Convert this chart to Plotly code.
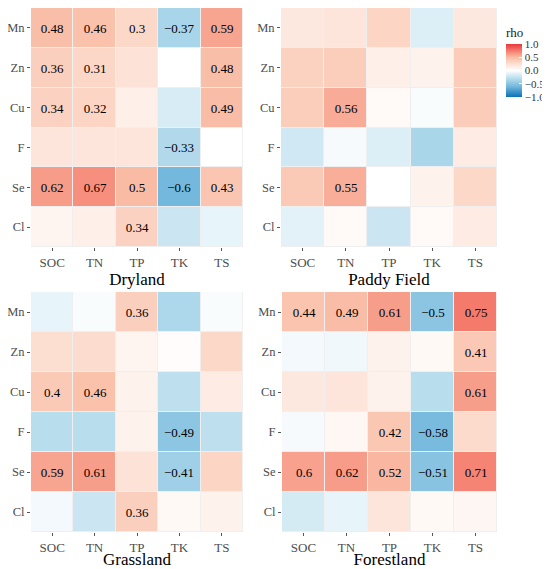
import plotly.graph_objects as go

# Spearman rho between soil properties and trace elements, per land use
props = ["SOC", "TN", "TP", "TK", "TS"]
elements = ["Mn", "Zn", "Cu", "F", "Se", "Cl"]

dryland = [
    [0.48, 0.46, 0.30, -0.37, 0.59],
    [0.36, 0.31, 0.22, 0.00, 0.48],
    [0.34, 0.32, 0.12, -0.17, 0.49],
    [0.20, 0.20, 0.20, -0.33, 0.00],
    [0.62, 0.67, 0.50, -0.60, 0.43],
    [0.08, 0.12, 0.34, -0.22, -0.10],
]
dryland_sig = [
    [1, 1, 1, 1, 1],
    [1, 1, 0, 0, 1],
    [1, 1, 0, 0, 1],
    [0, 0, 0, 1, 0],
    [1, 1, 1, 1, 1],
    [0, 0, 1, 0, 0],
]

paddy = [
    [0.18, 0.20, 0.32, -0.15, 0.18],
    [0.35, 0.37, 0.12, 0.10, 0.38],
    [0.37, 0.56, 0.04, -0.03, 0.38],
    [-0.20, -0.04, -0.15, -0.36, 0.15],
    [0.40, 0.55, 0.00, 0.10, 0.30],
    [-0.12, 0.04, -0.22, 0.04, 0.15],
]
paddy_sig = [
    [0, 0, 0, 0, 0],
    [0, 0, 0, 0, 0],
    [0, 1, 0, 0, 0],
    [0, 0, 0, 0, 0],
    [0, 1, 0, 0, 0],
    [0, 0, 0, 0, 0],
]

grassland = [
    [-0.10, -0.03, 0.36, -0.35, -0.03],
    [0.25, 0.27, 0.08, 0.02, 0.30],
    [0.40, 0.46, 0.10, -0.28, 0.15],
    [-0.30, -0.30, 0.10, -0.49, -0.28],
    [0.59, 0.61, 0.22, -0.41, 0.32],
    [-0.05, -0.22, 0.36, 0.05, 0.10],
]
grassland_sig = [
    [0, 0, 1, 0, 0],
    [0, 0, 0, 0, 0],
    [1, 1, 0, 0, 0],
    [0, 0, 0, 1, 0],
    [1, 1, 0, 1, 0],
    [0, 0, 1, 0, 0],
]

forestland = [
    [0.44, 0.49, 0.61, -0.50, 0.75],
    [-0.05, -0.06, 0.10, 0.05, 0.41],
    [0.18, 0.20, 0.10, -0.30, 0.61],
    [-0.04, 0.06, 0.42, -0.58, 0.28],
    [0.60, 0.62, 0.52, -0.51, 0.71],
    [-0.18, -0.10, 0.20, 0.05, 0.07],
]
forestland_sig = [
    [1, 1, 1, 1, 1],
    [0, 0, 0, 0, 1],
    [0, 0, 0, 0, 1],
    [0, 0, 1, 1, 0],
    [1, 1, 1, 1, 1],
    [0, 0, 0, 0, 0],
]

panels = [
    ("Dryland", dryland, dryland_sig),
    ("Paddy Field", paddy, paddy_sig),
    ("Grassland", grassland, grassland_sig),
    ("Forestland", forestland, forestland_sig),
]

scale = [
    [0.0, "#0b72b6"], [0.2, "#74b9dd"], [0.35, "#b8dded"], [0.5, "#ffffff"],
    [0.65, "#fcd8c9"], [0.75, "#f9bba4"], [0.875, "#f47a6c"], [1.0, "#e8383d"],
]

# the page has an 8px body margin, so the figure is drawn a bit smaller
# and all positions are given in page pixels minus that offset
OFF = 8
W, H = 550 - OFF, 569 - OFF
# page-pixel boxes of each panel: (left, right, top, bottom)
boxes = [(31, 243, 8, 247), (281, 497, 8, 247), (31, 243, 292, 532), (282, 497, 292, 532)]

FONT = "Liberation Serif, Times New Roman, serif"


def px_x(p):
    return min(max((p - OFF) / W, 0), 1)


def px_y(p):
    return min(max(1 - (p - OFF) / H, 0), 1)


def label(v, s):
    if not s:
        return ""
    return f"{v:g}".replace("-", "\u2212")


fig = go.Figure()
for i, (name, z, sig) in enumerate(panels):
    n = "" if i == 0 else str(i + 1)
    txt = [[label(v, s) for v, s in zip(zr, sr)] for zr, sr in zip(z, sig)]
    fig.add_trace(go.Heatmap(
        z=z, x=props, y=elements, text=txt, texttemplate="%{text}",
        textfont=dict(family=FONT, size=13, color="black"),
        colorscale=scale, zmin=-1, zmax=1, xgap=1, ygap=1,
        xaxis="x" + n, yaxis="y" + n, showscale=(i == 0),
        colorbar=dict(
            title=dict(text="rho", side="top", font=dict(family=FONT, size=13, color="#222")),
            x=px_x(506), xanchor="left", y=px_y(24), yanchor="top",
            len=73, lenmode="pixels", ypad=0, xpad=0, thickness=16, outlinewidth=0,
            tickvals=[1, 0.5, 0, -0.5, -1], tickformat=".1f",
            ticks="inside", tickcolor="white", ticklen=3,
            tickfont=dict(family=FONT, size=11, color="#333"),
        ),
    ))
    l, r, t, b = boxes[i]
    fig.update_layout({
        "xaxis" + n: dict(
            domain=[px_x(l), px_x(r)], anchor="y" + n, ticks="outside", ticklen=3,
            tickcolor="#555", showgrid=False, zeroline=False, automargin=False,
            tickfont=dict(family=FONT, size=13, color="#4d4d4d"),
            title=dict(text=name, font=dict(family=FONT, size=17, color="black"), standoff=3),
        ),
        "yaxis" + n: dict(
            domain=[px_y(b), px_y(t)], anchor="x" + n, autorange="reversed",
            ticks="outside", ticklen=3, tickcolor="#555", showgrid=False, zeroline=False,
            automargin=False,
            tickfont=dict(family=FONT, size=12.5, color="#4d4d4d"),
        ),
    })

fig.update_layout(
    width=W, height=H, margin=dict(l=0, r=0, t=0, b=0),
    paper_bgcolor="white", plot_bgcolor="#efefef",
)

fig.write_html("out.html")
